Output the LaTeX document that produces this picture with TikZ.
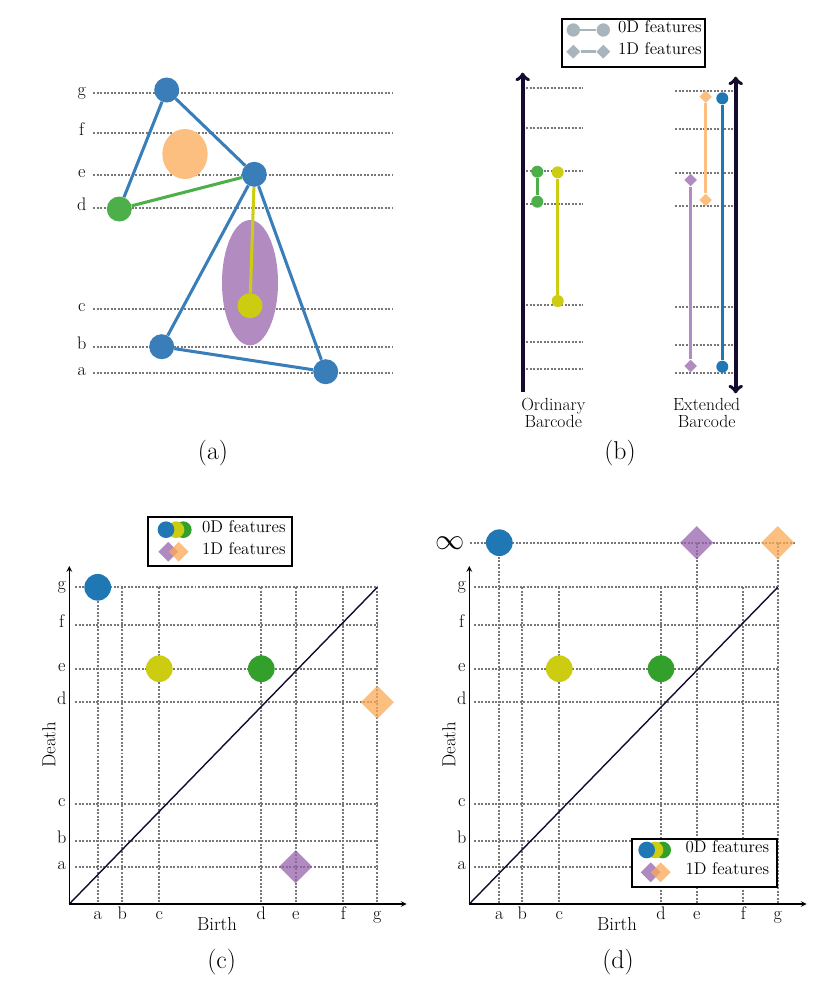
\documentclass[tikz,border=0pt]{standalone}
\usepackage{tikz}
\usetikzlibrary{shapes.geometric, arrows}
\definecolor{vblue}{HTML}{3A7EB9}
\definecolor{vgreen}{HTML}{4DAF4A}
\definecolor{vyellow}{HTML}{CCCC11}
\definecolor{vorange}{HTML}{FDBF7F}
\definecolor{vpurple}{HTML}{B28CC1}
\definecolor{pblue}{HTML}{1F78B4}
\definecolor{pgreen}{HTML}{33A02C}
\definecolor{porange}{HTML}{FCA954}
\definecolor{ppurple}{HTML}{9563AB}
\definecolor{legray}{HTML}{A9B5BD}
\definecolor{navy}{HTML}{150B30}
\definecolor{dotgray}{HTML}{777777}
\tikzstyle{level} = [dotgray, line width=1.7pt, dash pattern=on 1.7pt off 1.3pt]
\tikzstyle{vertex} = [circle, inner sep=0pt, minimum size=0.75cm]
\tikzstyle{edge} = [line width=2.6pt]
\tikzstyle{hole} = [ellipse, inner sep=0pt]
\tikzstyle{bar} = [line width=2.6pt]
\tikzstyle{bdot} = [circle, inner sep=0pt, minimum size=0.36cm]
\tikzstyle{bdiam} = [diamond, inner sep=0pt, minimum size=0.38cm]
\tikzstyle{pt} = [circle, inner sep=0pt, minimum size=0.8cm]
\tikzstyle{ptd} = [diamond, inner sep=0pt, minimum size=1cm, opacity=0.75]
\tikzstyle{ldot} = [circle, inner sep=0pt, minimum size=0.5cm]
\tikzstyle{ldiam} = [diamond, inner sep=0pt, minimum size=0.6cm, opacity=0.75]
\tikzstyle{axis} = [line width=1.2pt, -stealth]
\tikzstyle{bigaxis} = [navy, line width=3.2pt]
\tikzstyle{diag} = [navy, line width=1.2pt]
\tikzstyle{legend} = [draw=black, line width=1.5pt, fill=white]
\tikzstyle{lab} = [anchor=mid, inner sep=0pt]
\tikzstyle{axlab} = [font=\fontsize{16}{18}\selectfont]
\tikzstyle{legtext} = [anchor=mid west, font=\fontsize{14.5}{16}\selectfont]
\tikzstyle{barlab} = [align=center, font=\fontsize{15}{14.5}\selectfont]
\tikzstyle{caption} = [font=\fontsize{22}{24}\selectfont]

\begin{document}
\begin{tikzpicture}[x=0.03cm, y=-0.03cm, font=\fontsize{15.5}{17}\selectfont]
    \useasboundingbox (0,0) rectangle (831,999);

    % (a) the filtered complex
    \foreach \l/\y in {g/92.7, f/132.7, e/175, d/208, c/309, b/346.7, a/372.7} {
        \draw [level] (93,\y) -- (393,\y);
        \node [lab] at (81.7,\y) {\l};
    }
    \node (h1) [hole, fill=vorange, minimum width=1.36cm, minimum height=1.5cm] at (185,154) {};
    \node (h2) [hole, fill=vpurple, minimum width=1.68cm, minimum height=3.76cm] at (250,282.7) {};
    \node (vg) [vertex, fill=vblue] at (166.7,90) {};
    \node (ve) [vertex, fill=vblue] at (254.3,174.3) {};
    \node (vd) [vertex, fill=vgreen] at (119.3,209) {};
    \node (vc) [vertex, fill=vyellow] at (250,305.7) {};
    \node (vb) [vertex, fill=vblue] at (161.7,346.7) {};
    \node (va) [vertex, fill=vblue] at (325.7,371.7) {};
    \draw [edge, vblue] (vg) -- (vd);
    \draw [edge, vblue] (vg) -- (ve);
    \draw [edge, vblue] (ve) -- (vb);
    \draw [edge, vblue] (ve) -- (va);
    \draw [edge, vblue] (vb) -- (va);
    \draw [edge, vgreen] (vd) -- (ve);
    \draw [edge, vyellow] (ve) -- (vc);
    \node [caption] at (213,453) {(a)};

    % (b) barcodes
    \node (lgb) [legend, minimum width=4.3cm, minimum height=1.42cm] at (633.3,43) {};
    \node (l0a) [bdot, fill=legray, minimum size=0.4cm] at (573.3,30) {};
    \node (l0b) [bdot, fill=legray, minimum size=0.4cm] at (603.3,30) {};
    \node (l1a) [bdiam, fill=legray, minimum size=0.42cm] at (573.3,51.7) {};
    \node (l1b) [bdiam, fill=legray, minimum size=0.42cm] at (603.3,51.7) {};
    \draw [legray, line width=2.2pt] (l0a) -- (l0b);
    \draw [legray, line width=2.2pt] (l1a) -- (l1b);
    \node [legtext] at (614,30) {0D features};
    \node [legtext] at (614,51.7) {1D features};

    \foreach \y in {88.3, 128.3, 170.7, 203.7, 305, 342.3, 369.3}
        \draw [level] (526,\y) -- (583.3,\y);
    \foreach \y in {90.7, 129.3, 172.7, 206, 307.3, 345, 372.7}
        \draw [level] (675,\y) -- (733.3,\y);
    \coordinate (ob) at (522.7,391.7);
    \coordinate (ot) at (522.7,72.7);
    \coordinate (et) at (735.7,76.7);
    \coordinate (eb) at (735.7,393.3);
    \draw [bigaxis, ->] (ob) -- (ot);
    \draw [bigaxis, <->] (et) -- (eb);

    \node (b1) [bdot, fill=vgreen] at (537.3,171.7) {};
    \node (b2) [bdot, fill=vgreen] at (537.3,201.7) {};
    \node (b3) [bdot, fill=vyellow] at (557.7,172.3) {};
    \node (b4) [bdot, fill=vyellow] at (557.7,301) {};
    \draw [bar, vgreen] (b1) -- (b2);
    \draw [bar, vyellow] (b3) -- (b4);
    \node (x1) [bdiam, fill=vorange] at (705.7,96.7) {};
    \node (x2) [bdiam, fill=vorange] at (705.7,200) {};
    \node (x3) [bdot, fill=pblue] at (722.3,98.3) {};
    \node (x4) [bdot, fill=pblue] at (722.3,366.7) {};
    \node (x5) [bdiam, fill=vpurple] at (690.7,180) {};
    \node (x6) [bdiam, fill=vpurple] at (690.7,366) {};
    \draw [bar, vorange] (x1) -- (x2);
    \draw [bar, pblue] (x3) -- (x4);
    \draw [bar, vpurple] (x5) -- (x6);
    \node [barlab] at (553.3,413) {Ordinary\\Barcode};
    \node [barlab] at (706.7,413) {Extended\\Barcode};
    \node [caption] at (620,453) {(b)};

    % (c) ordinary persistence diagram
    \foreach \l/\y in {g/587.3, f/624.7, e/668.7, d/702.3, c/803.7, b/841, a/866.7} {
        \draw [level] (75,\y) -- (378,\y);
        \node [lab] at (61.7,\y) {\l};
    }
    \foreach \l/\x in {a/97.7, b/122.3, c/159.3, d/261.3, e/295.7, f/343.3, g/377.3} {
        \draw [level] (\x,587.3) -- (\x,904);
        \node [anchor=base] at (\x,919.5) {\l};
    }
    \coordinate (o1) at (69.3,904);
    \coordinate (ty1) at (69.3,566);
    \coordinate (tx1) at (406.7,904);
    \coordinate (gg1) at (377.3,587.3);
    \draw [diag] (o1) -- (gg1);
    \draw [axis] (o1) -- (ty1);
    \draw [axis] (o1) -- (tx1);
    \node [axlab, anchor=base] at (217,930) {Birth};
    \node [axlab, rotate=90] at (49,745) {Death};
    \node (c1) [pt, fill=pblue] at (97.7,587.3) {};
    \node (c2) [pt, fill=vyellow] at (159.3,668.7) {};
    \node (c3) [pt, fill=pgreen] at (261.3,668.7) {};
    \node (c4) [ptd, fill=porange] at (377.3,702.3) {};
    \node (c5) [ptd, fill=ppurple] at (295.7,866.7) {};
    \node (lgc) [legend, minimum width=4.33cm, minimum height=1.45cm] at (219.8,541.5) {};
    \node [ldot, fill=pgreen] at (183.3,529.7) {};
    \node [ldot, fill=vyellow] at (176,529.7) {};
    \node [ldot, fill=pblue] at (166,529.7) {};
    \node [ldiam, fill=ppurple] at (168.3,551.7) {};
    \node [ldiam, fill=porange] at (178.7,551.7) {};
    \node [legtext] at (198,530) {0D features};
    \node [legtext] at (198,552) {1D features};
    \node [caption] at (221.7,961.7) {(c)};

    % (d) extended persistence diagram
    \begin{scope}[shift={(400,0)}]
        \foreach \l/\y in {g/587.3, f/624.7, e/668.7, d/702.3, c/803.7, b/841, a/866.7} {
            \draw [level] (74,\y) -- (378,\y);
            \node [lab] at (61.7,\y) {\l};
        }
        \draw [level] (70,542.7) -- (395,542.7);
        \foreach \l/\x/\t in {a/99.3/542.7, b/122.3/587.3, c/159.3/587.3, d/261/587.3, e/296.7/542.7, f/343.3/587.3, g/377.7/542.7} {
            \draw [level] (\x,\t) -- (\x,904);
            \node [anchor=base] at (\x,919.5) {\l};
        }
        \node [font=\normalsize, scale=2.5] at (50,542.7) {$\infty$};
        \coordinate (o2) at (69.3,904);
        \coordinate (ty2) at (69.3,566);
        \coordinate (tx2) at (406.7,904);
        \coordinate (gg2) at (377.7,587.3);
        \draw [diag] (o2) -- (gg2);
        \draw [axis] (o2) -- (ty2);
        \draw [axis] (o2) -- (tx2);
        \node [axlab, anchor=base] at (217,930) {Birth};
        \node [axlab, rotate=90] at (49,745) {Death};
        \node (d1) [pt, fill=pblue] at (99.3,542.7) {};
        \node (d2) [pt, fill=vyellow] at (159.3,668.7) {};
        \node (d3) [pt, fill=pgreen] at (261,668.7) {};
        \node (d4) [ptd, fill=ppurple] at (296.7,542.7) {};
        \node (d5) [ptd, fill=porange] at (377.7,542.7) {};
        \node (lgd) [legend, minimum width=4.37cm, minimum height=1.44cm] at (304.5,863.3) {};
        \node [ldot, fill=pgreen] at (262.7,850) {};
        \node [ldot, fill=vyellow] at (255,850) {};
        \node [ldot, fill=pblue] at (246.7,850) {};
        \node [ldiam, fill=ppurple] at (250.7,872.3) {};
        \node [ldiam, fill=porange] at (260.7,872.3) {};
        \node [legtext] at (281.5,850) {0D features};
        \node [legtext] at (281.5,872.3) {1D features};
        \node [caption] at (218,962) {(d)};
    \end{scope}
\end{tikzpicture}
\end{document}
